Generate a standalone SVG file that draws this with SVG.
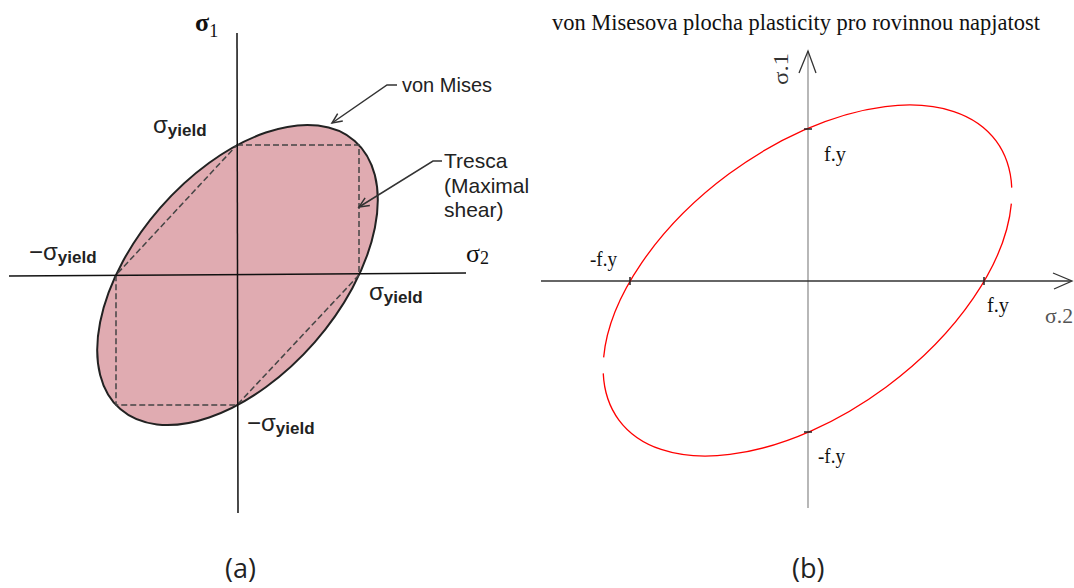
<svg xmlns="http://www.w3.org/2000/svg" width="1074" height="588" viewBox="0 0 1074 588">
<defs>
<style>
.axA{stroke:#111;stroke-width:1.5;fill:none}
.sans{font-family:"Liberation Sans",Arial,sans-serif;fill:#222}
.serif{font-family:"Liberation Serif","Times New Roman",serif;fill:#111}
.sub{font-weight:bold;font-size:17px}
.lead{stroke:#333;stroke-width:1.5;fill:none}
.cap{font-family:"Open Sans","Noto Sans",sans-serif;font-size:27px;fill:#222}
</style>
<marker id="chev" markerUnits="userSpaceOnUse" markerWidth="14" markerHeight="12" viewBox="-11 -6 12 12" refX="0" refY="0" orient="auto">
<path d="M-10,-4.5 L0,0 L-10,4.5" fill="none" stroke="#333" stroke-width="1.5"/>
</marker>
</defs>
<rect width="1074" height="588" fill="#fff"/>

<g id="panel-a">
<ellipse cx="237.5" cy="275" rx="178.1" ry="102.4" transform="rotate(-48.85 237.5 275)" fill="#e0abb1" stroke="#222" stroke-width="2"/>
<path d="M237,145 H359 V275 L237,405 H116 V275 Z" fill="none" stroke="#444" stroke-width="1.5" stroke-dasharray="6 3"/>
<line class="axA" x1="237" y1="33" x2="238" y2="513"/>
<line class="axA" x1="9" y1="276" x2="466" y2="273"/>
</g>

<g id="labels-a">
<text class="serif" x="195" y="31" font-size="26" font-weight="bold">σ<tspan font-size="18" font-weight="normal" dy="6">1</tspan></text>
<text class="serif" x="466" y="262" font-size="26">σ<tspan font-size="18" dy="2">2</tspan></text>
<text class="sans" x="153" y="133" font-size="24">σ<tspan class="sub" dy="3">yield</tspan></text>
<text class="sans" x="29" y="260" font-size="24">−σ<tspan class="sub" dy="3">yield</tspan></text>
<text class="sans" x="369" y="300" font-size="24">σ<tspan class="sub" dy="3">yield</tspan></text>
<text class="sans" x="247" y="431" font-size="24">−σ<tspan class="sub" dy="3">yield</tspan></text>
<text id="lbl-vonmises" class="sans" x="402" y="92" font-size="20" fill="#333">von Mises</text>
<g id="lbl-tresca">
<text class="sans" x="444" y="168" font-size="21" fill="#3a2d3a">Tresca</text>
<text class="sans" x="444" y="193" font-size="21" fill="#333">(Maximal</text>
<text class="sans" x="444" y="217" font-size="21" fill="#333">shear)</text>
</g>
<text class="cap" x="225" y="578">(a)</text>
</g>

<g id="connectors">
<polyline class="lead" points="397,85 387,85 332,123" marker-end="url(#chev)"/>
<polyline class="lead" points="442,161 433,161 359,207" marker-end="url(#chev)"/>
</g>

<g id="panel-b">
<text class="serif" x="552" y="30" font-size="23.5" textLength="488" lengthAdjust="spacingAndGlyphs">von Misesova plocha plasticity pro rovinnou napjatost</text>
<line x1="808" y1="51" x2="808" y2="508" stroke="#888" stroke-width="1.2"/>
<line x1="541" y1="281" x2="1071" y2="281" stroke="#333" stroke-width="1.5"/>
<polyline points="799,73 808,51 816,73" fill="none" stroke="#333" stroke-width="1.3"/>
<polyline points="1053,273 1072,281 1054,289" fill="none" stroke="#333" stroke-width="1.3"/>
<ellipse cx="807.5" cy="280.5" rx="234.6" ry="132.4" transform="rotate(-36.5 807.5 280.5)" fill="none" stroke="#f00" stroke-width="1.3" pathLength="1175" stroke-dasharray="50 16 571.5 16 521.5"/>
<g stroke="#222" stroke-width="1.5">
<line x1="630" y1="277" x2="630" y2="285"/>
<line x1="984" y1="277" x2="984" y2="285"/>
<line x1="804" y1="129" x2="812" y2="129"/>
<line x1="804" y1="432" x2="812" y2="432"/>
</g>
</g>

<g id="labels-b" class="serif" font-size="22">
<text x="0" y="0" transform="translate(788 85) rotate(-90)" font-size="22" fill="#333" textLength="32" lengthAdjust="spacingAndGlyphs">σ.1</text>
<text x="824" y="161" textLength="22" lengthAdjust="spacingAndGlyphs">f.y</text>
<text x="590" y="266" textLength="27" lengthAdjust="spacingAndGlyphs">-f.y</text>
<text x="987" y="312" textLength="22" lengthAdjust="spacingAndGlyphs">f.y</text>
<text x="818" y="463" textLength="27" lengthAdjust="spacingAndGlyphs">-f.y</text>
<text x="1045" y="323" fill="#555" textLength="28" lengthAdjust="spacingAndGlyphs">σ.2</text>
<text class="cap" x="792" y="578">(b)</text>
</g>
</svg>
